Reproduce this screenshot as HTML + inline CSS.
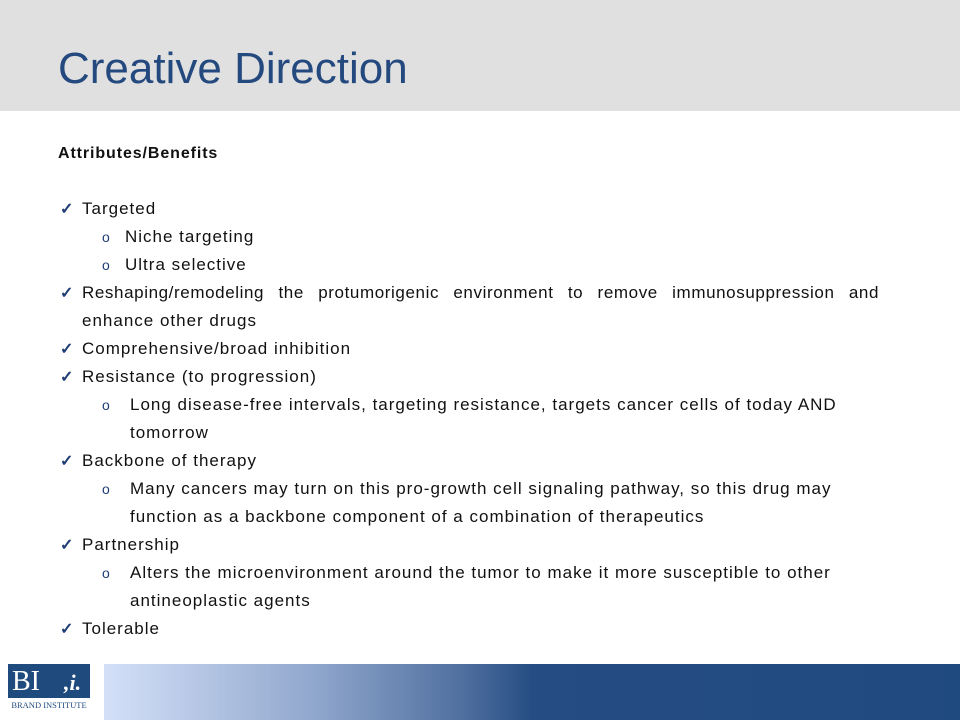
<!DOCTYPE html>
<html><head><meta charset="utf-8"><style>
body{margin:0;width:960px;height:720px;position:relative;overflow:hidden;background:#fff;font-family:"Liberation Sans",sans-serif;}
.hdr{position:absolute;left:0;top:0;width:960px;height:111px;background:#e0e0e0;}
.title{position:absolute;left:58px;top:44px;font-size:44px;color:#24497e;letter-spacing:0px;}
.l{position:absolute;font-size:17px;color:#111;white-space:nowrap;line-height:20px;letter-spacing:1px;}
.ck{position:absolute;left:60px;font-size:16px;color:#1f3d73;font-weight:bold;}
.o{position:absolute;font-size:14px;color:#1f3d73;}
.foot{position:absolute;left:104px;top:664px;width:856px;height:56px;background:linear-gradient(90deg,#d4e0f8 0%,#8fa6cc 25%,#4f6f9f 42%,#264d83 50%,#1f4a80 100%);}
.logo{position:absolute;left:8px;top:664px;width:82px;height:48px;background:#1f4a7e;}
</style></head><body>
<div class="hdr"></div>
<div class="title">Creative Direction</div>
<div class="l" style="left:58px;top:144px;font-weight:bold;font-size:16px;letter-spacing:0.9px">Attributes/Benefits</div>

<div class="ck" style="top:199px">✓</div>
<div class="l" style="left:82px;top:199px">Targeted</div>
<div class="o" style="left:102px;top:229px">o</div>
<div class="l" style="left:125px;top:227px">Niche targeting</div>
<div class="o" style="left:102px;top:257px">o</div>
<div class="l" style="left:125px;top:255px">Ultra selective</div>

<div class="ck" style="top:283px">✓</div>
<div class="l" style="left:82px;top:283px;width:797px;text-align:justify;text-align-last:justify;white-space:normal;height:20px;overflow:hidden;letter-spacing:0.6px">Reshaping/remodeling the protumorigenic environment to remove immunosuppression and</div>
<div class="l" style="left:82px;top:311px">enhance other drugs</div>

<div class="ck" style="top:339px">✓</div>
<div class="l" style="left:82px;top:339px">Comprehensive/broad inhibition</div>

<div class="ck" style="top:367px">✓</div>
<div class="l" style="left:82px;top:367px">Resistance (to progression)</div>
<div class="o" style="left:102px;top:397px">o</div>
<div class="l" style="left:130px;top:395px">Long disease-free intervals, targeting resistance, targets cancer cells of today AND</div>
<div class="l" style="left:130px;top:423px">tomorrow</div>

<div class="ck" style="top:451px">✓</div>
<div class="l" style="left:82px;top:451px">Backbone of therapy</div>
<div class="o" style="left:102px;top:481px">o</div>
<div class="l" style="left:130px;top:479px">Many cancers may turn on this pro-growth cell signaling pathway, so this drug may</div>
<div class="l" style="left:130px;top:507px">function as a backbone component of a combination of therapeutics</div>

<div class="ck" style="top:535px">✓</div>
<div class="l" style="left:82px;top:535px">Partnership</div>
<div class="o" style="left:102px;top:565px">o</div>
<div class="l" style="left:130px;top:563px">Alters the microenvironment around the tumor to make it more susceptible to other</div>
<div class="l" style="left:130px;top:591px">antineoplastic agents</div>

<div class="ck" style="top:619px">✓</div>
<div class="l" style="left:82px;top:619px">Tolerable</div>

<div class="foot"></div>
<div class="logo">
<div style="position:absolute;left:4px;top:2px;font-family:'Liberation Serif',serif;font-size:28px;color:#fff;">BI</div>
<div style="position:absolute;left:56px;top:6px;font-family:'Liberation Serif',serif;font-size:22px;font-style:italic;font-weight:bold;color:#fff;">,i.</div>
<div style="position:absolute;left:0;top:34px;width:82px;height:14px;background:#fff;font-family:'Liberation Serif',serif;font-size:8.5px;color:#1f4a7e;text-align:center;line-height:14px;">BRAND INSTITUTE</div>
</div>
</body></html>
